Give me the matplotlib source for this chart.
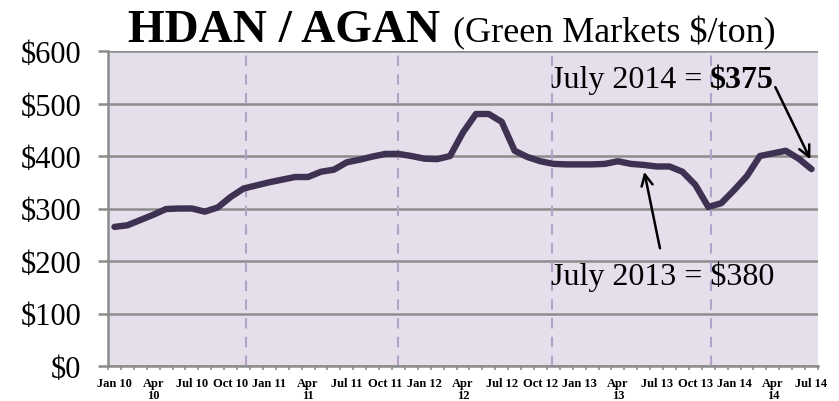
import matplotlib
matplotlib.use("Agg")
import matplotlib.pyplot as plt
import numpy as np

months = ["Jan", "Feb", "Mar", "Apr", "May", "Jun", "Jul", "Aug", "Sep", "Oct", "Nov", "Dec"]
years = ["10", "11", "12", "13", "14"]
categories = [f"{m} {y}" for y in years for m in months][:55]  # Jan 10 .. Jul 14

prices = [265, 268, 278, 288, 299, 300, 300, 294, 302, 322, 338, 344,
          350, 355, 360, 360, 370, 374, 388, 393, 399, 404, 404, 400,
          395, 394, 400, 445, 480, 480, 465, 410, 398, 390, 385, 384,
          384, 384, 385, 390, 385, 383, 380, 380, 370, 345, 303, 310,
          335, 362, 400, 405, 410, 395, 375]

yticks = [0, 100, 200, 300, 400, 500, 600]
ytick_labels = ["$0", "$100", "$200", "$300", "$400", "$500", "$600"]
year_dividers = [10.2, 22.0, 33.9, 46.2]

serif = "Liberation Serif"

fig = plt.figure(figsize=(8.39, 4.02), dpi=100)
ax = fig.add_axes([108/839, 1-367/402, 710/839, 315/402])
ax.set_facecolor("#E5DFEC")

x = np.arange(len(prices))
ax.set_xlim(-0.5, len(prices) - 0.5)
ax.set_ylim(0, 600)

grid_c = "#8C8C8C"
for yv in yticks:
    ax.axhline(yv, color=grid_c, lw=1.8, zorder=1)
for xv in year_dividers:
    ax.axvline(xv, color="#B3A2C7", lw=1.5, ls=(0, (5, 4)), zorder=1)

ax.plot(x, prices, color="#3F3151", lw=4.6, solid_capstyle="round",
        solid_joinstyle="round", zorder=3)

for s in ["top", "right"]:
    ax.spines[s].set_visible(False)
for s in ["left", "bottom"]:
    ax.spines[s].set_color(grid_c)
    ax.spines[s].set_linewidth(1.8)

ax.set_yticks(yticks)
ax.set_yticklabels([l.replace("$", r"\$") for l in ytick_labels],
                   fontfamily=serif, fontsize=22)
ax.tick_params(axis="y", length=7, width=1.8, color=grid_c, pad=12)

label_idx = list(range(0, len(prices), 3))
lbls = []
for i in label_idx:
    c = categories[i]
    if c.startswith("Apr"):
        c = c.replace(" ", "\n")
    lbls.append(c)
ax.set_xticks(label_idx)
ax.set_xticklabels(lbls, fontfamily=serif, fontsize=9, fontweight="bold",
                   linespacing=1.0)
ax.tick_params(axis="x", which="major", length=0, pad=8)
ax.set_xticks(np.arange(-0.5, len(prices), 1), minor=True)
ax.tick_params(axis="x", which="minor", length=3, width=1.2, color=grid_c)

# Title
fig.text(128/839, 1-42/402, "HDAN / AGAN", fontfamily=serif, fontsize=34,
         fontweight="bold", va="baseline", ha="left")
fig.text(453/839, 1-42/402, r"(Green Markets \$/ton)", fontfamily=serif,
         fontsize=26, va="baseline", ha="left")

# Annotations
t1 = ax.text(33.8, 531, "July 2014 = ", fontfamily=serif, fontsize=23,
             va="baseline", ha="left", zorder=5)
ax.annotate(r"\$375", xy=(1, 0), xycoords=t1, va="bottom", ha="left",
            fontfamily=serif, fontsize=23, fontweight="bold", zorder=5)
ax.annotate("", xy=(54.0, 389), xytext=(51.1, 536),
            arrowprops=dict(arrowstyle="->,head_length=0.8,head_width=0.4",
                            color="black", lw=1.8), zorder=5)

ax.text(33.8, 156, r"July 2013 = \$380", fontfamily=serif, fontsize=23,
        va="baseline", ha="left", zorder=5)
ax.annotate("", xy=(41.0, 375), xytext=(42.3, 219),
            arrowprops=dict(arrowstyle="->,head_length=0.8,head_width=0.4",
                            color="black", lw=1.8), zorder=5)

fig.savefig("out.png", dpi=100)
